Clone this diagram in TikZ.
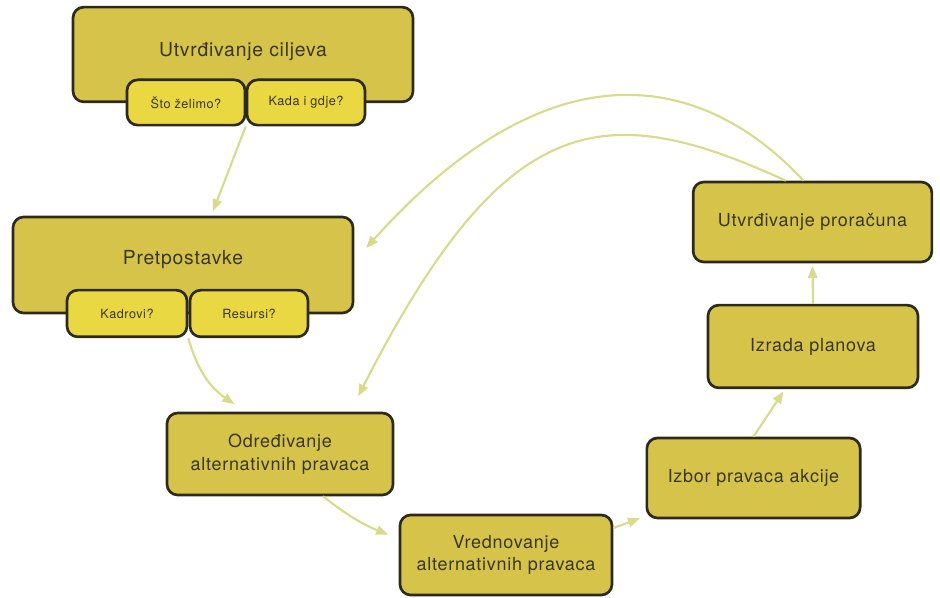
\documentclass[tikz,border=0pt]{standalone}
\usepackage{fontspec}
\setmainfont{TeX Gyre Heros}
\newfontfamily\boxfont[LetterSpace=4]{TeX Gyre Heros}
\usetikzlibrary{arrows.meta, calc}

\definecolor{bigfill}{RGB}{214,196,74}
\definecolor{smallfill}{RGB}{234,216,66}
\definecolor{edge}{RGB}{46,42,26}
\definecolor{ink}{RGB}{58,54,30}
\definecolor{flowcol}{RGB}{214,220,140}

\tikzset{
  bigbox/.style={draw=edge, line width=2pt, fill=bigfill, rounded corners=8pt,
    text=ink, font=\boxfont\fontsize{13.5}{17}\selectfont, align=center, inner sep=0pt},
  topbox/.style={bigbox, font=\boxfont\fontsize{14.5}{17}\selectfont},
  smallbox/.style={draw=edge, line width=2pt, fill=smallfill, rounded corners=8pt,
    text=ink, font=\boxfont\fontsize{9.5}{12}\selectfont, inner sep=0pt},
  flow/.style={draw=flowcol, line width=1.6pt, shorten >=2pt,
    -{Triangle[length=9pt, width=7pt]}}
}

\begin{document}
\begin{tikzpicture}[x=0.75pt, y=-0.75pt]
  \useasboundingbox (0,0) rectangle (940,598);

  % Goals
  \node[topbox, minimum width=255pt, minimum height=71pt, text height=10pt, text depth=7pt]
    (cilj) at (243,54.5) {Utvrđivanje ciljeva};
  \node[smallbox, minimum width=88.5pt, minimum height=34pt] (sto) at (186,102.5) {Što želimo?};
  \node[smallbox, minimum width=88.5pt, minimum height=34pt] (kada) at (306,102.5) {Kada i gdje?};

  % Assumptions
  \node[topbox, minimum width=255pt, minimum height=72pt, text height=10pt, text depth=10pt]
    (pret) at (183,265) {Pretpostavke};
  \node[smallbox, minimum width=90pt, minimum height=35pt] (kadr) at (127,313.5) {Kadrovi?};
  \node[smallbox, minimum width=88.5pt, minimum height=35pt] (res) at (249,313.5) {Resursi?};

  % Alternatives
  \node[bigbox, minimum width=169.5pt, minimum height=61.5pt] (odr) at (280,454)
    {Određivanje\\alternativnih pravaca};
  \node[bigbox, minimum width=159pt, minimum height=60pt] (vred) at (506,555)
    {Vrednovanje\\alternativnih pravaca};

  % Choice, plans, budget
  \node[bigbox, minimum width=160pt, minimum height=60pt] (izbor) at (753.5,478)
    {Izbor pravaca akcije};
  \node[bigbox, minimum width=157.5pt, minimum height=62pt] (izrada) at (813,346.5)
    {Izrada planova};
  \node[bigbox, minimum width=179pt, minimum height=60pt] (prorac) at (812.5,222)
    {Utvrđivanje proračuna};

  % Forward flow
  \draw[flow] (kada.south west) -- ($(pret.north)+(29,-2)$);
  \draw[flow] (kadr.south east) to[bend right=20] ($(odr.north west)+(71,-6)$);
  \draw[flow] ($(odr.south)+(43,0)$) to[bend right=8] ($(vred.north west)+(-8,22)$);
  \draw[flow] ($(vred.east)+(0,-27)$) -- ($(izbor.south west)+(-3,-2)$);
  \draw[flow] (izbor.north) -- ($(izrada.south)+(-28,0)$);
  \draw[flow] (izrada.north) -- (prorac.south);

  % Feedback arcs
  \draw[flow] ($(prorac.north)+(-9,0)$) .. controls (715,85) and (564,28) .. ($(pret.east)+(10,-15)$);
  \draw[flow] ($(prorac.north west)+(94,0)$) .. controls (605,98) and (506,106) .. ($(odr.north)+(77,-13)$);
\end{tikzpicture}
\end{document}
